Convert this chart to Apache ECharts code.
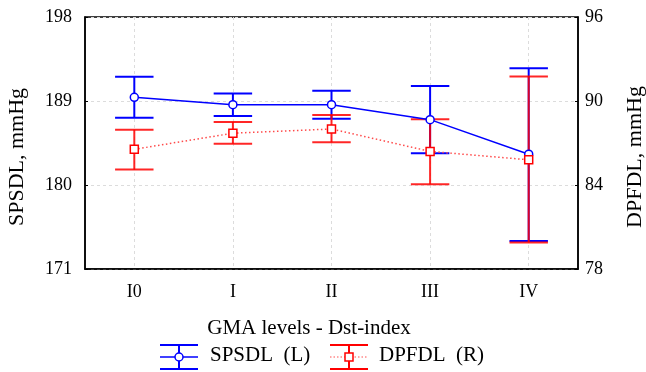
<!DOCTYPE html>
<html><head><meta charset="utf-8">
<script src="https://cdn.jsdelivr.net/npm/echarts@6/dist/echarts.min.js"></script>
<style>html,body{margin:0;padding:0;background:#fff}#c{width:646px;height:372px}</style>
</head><body><div id="c"></div>
<script>
const categories = ['I0', 'I', 'II', 'III', 'IV'];
const spsdlMean = [189.4, 188.6, 188.6, 187.0, 183.3];
const spsdlLow  = [187.2, 187.4, 187.1, 183.4, 174.0];
const spsdlHigh = [191.6, 189.8, 190.1, 190.6, 192.5];
const dpfdlMean = [86.55, 87.7, 88.0, 86.4, 85.8];
const dpfdlLow  = [85.1, 86.95, 87.05, 84.05, 79.9];
const dpfdlHigh = [87.95, 88.5, 89.0, 88.7, 91.75];
const leftAxis = {min: 171, max: 198, step: 9};
const rightAxis = {min: 78, max: 96, step: 6};
const seriesNames = ['SPSDL  (L)', 'DPFDL  (R)'];

const BLUE = '#0000ff', RED = '#ff0000';
const FONT = 'Liberation Serif';

function errRender(color, opacity) {
  return function (params, api) {
    const i = api.value(0);
    const lo = api.coord([i, api.value(1)]);
    const hi = api.coord([i, api.value(2)]);
    const hw = api.size([1, 0])[0] * 0.195;
    const style = {stroke: color, lineWidth: 2, opacity: opacity};
    return {type: 'group', children: [
      {type: 'line', shape: {x1: lo[0], y1: lo[1], x2: hi[0], y2: hi[1]}, style: style},
      {type: 'line', shape: {x1: lo[0] - hw, y1: lo[1], x2: lo[0] + hw, y2: lo[1]}, style: style},
      {type: 'line', shape: {x1: hi[0] - hw, y1: hi[1], x2: hi[0] + hw, y2: hi[1]}, style: style}
    ]};
  };
}

function legendIcon(x, color, isRect, dotted) {
  const cx = x + 19, top = 345, mid = 357, bot = 369;
  const s = {stroke: color, lineWidth: 2};
  const children = [
    {type: 'line', shape: {x1: x, y1: top, x2: x + 38, y2: top}, style: s},
    {type: 'line', shape: {x1: x, y1: bot, x2: x + 38, y2: bot}, style: s},
    {type: 'line', shape: {x1: x, y1: mid, x2: x + 38, y2: mid}, style: dotted ? {stroke: '#ff5050', lineWidth: 1.2, lineDash: [1.5, 2]} : {stroke: color, lineWidth: 1.5}},
    {type: 'line', shape: {x1: cx, y1: top, x2: cx, y2: bot}, style: s}
  ];
  if (isRect) children.push({type: 'rect', shape: {x: cx - 4, y: mid - 4, width: 8, height: 8}, style: {fill: '#fff', stroke: color, lineWidth: 1.5}});
  else children.push({type: 'circle', shape: {cx: cx, cy: mid, r: 4}, style: {fill: '#fff', stroke: color, lineWidth: 1.5}});
  return {type: 'group', children: children};
}

const chart = echarts.init(document.getElementById('c'), null, {renderer: 'canvas'});
chart.setOption({
  animation: false,
  textStyle: {fontFamily: FONT},
  grid: {left: 85, right: 68, top: 17, bottom: 103, show: true, borderColor: '#000', borderWidth: 1.5, backgroundColor: 'transparent', outerBoundsMode: 'none', containLabel: false},
  xAxis: {
    type: 'category', data: categories, boundaryGap: true,
    name: 'GMA levels - Dst-index', nameLocation: 'middle', nameGap: 49,
    nameTextStyle: {fontFamily: FONT, fontSize: 21, color: '#000', padding: [0, 45, 0, 0]},
    axisLine: {lineStyle: {color: '#000', width: 1.5}},
    axisTick: {inside: true, alignWithLabel: true, length: 3, lineStyle: {color: '#000'}},
    axisLabel: {fontFamily: FONT, fontSize: 18, color: '#000', margin: 14},
    splitLine: {show: true, alignWithLabel: true, lineStyle: {color: '#dcdcdc', type: [3, 3], width: 1}}
  },
  yAxis: [{
    type: 'value', min: leftAxis.min, max: leftAxis.max, interval: leftAxis.step,
    name: 'SPSDL, mmHg', nameLocation: 'middle', nameGap: 57, nameRotate: 90,
    nameTextStyle: {fontFamily: FONT, fontSize: 22, color: '#000', padding: [0, 28, 0, 0]},
    axisLine: {show: true, lineStyle: {color: '#000', width: 1.5}},
    axisTick: {show: true, inside: true, length: 3, lineStyle: {color: '#000'}},
    axisLabel: {fontFamily: FONT, fontSize: 18, color: '#000', margin: 13},
    splitLine: {show: true, lineStyle: {color: '#dcdcdc', type: [3, 3], width: 1}}
  }, {
    type: 'value', min: rightAxis.min, max: rightAxis.max, interval: rightAxis.step, position: 'right',
    name: 'DPFDL, mmHg', nameLocation: 'middle', nameGap: 46, nameRotate: 90,
    nameTextStyle: {fontFamily: FONT, fontSize: 22, color: '#000', padding: [0, 28, 0, 0]},
    axisLine: {show: true, lineStyle: {color: '#000', width: 1.5}},
    axisTick: {show: true, inside: true, length: 3, lineStyle: {color: '#000'}},
    axisLabel: {fontFamily: FONT, fontSize: 18, color: '#000', margin: 7},
    splitLine: {show: false}
  }],
  series: [
    {type: 'custom', name: seriesNames[0] + ' err', yAxisIndex: 0, z: 2,
     renderItem: errRender(BLUE, 1), encode: {x: 0, y: [1, 2]},
     data: categories.map((c, i) => [i, spsdlLow[i], spsdlHigh[i]])},
    {type: 'custom', name: seriesNames[1] + ' err', yAxisIndex: 1, z: 3,
     renderItem: errRender(RED, 0.85), encode: {x: 0, y: [1, 2]},
     data: categories.map((c, i) => [i, dpfdlLow[i], dpfdlHigh[i]])},
    {type: 'line', name: seriesNames[0], yAxisIndex: 0, z: 4, data: spsdlMean,
     symbol: 'circle', symbolSize: 8, showAllSymbol: true,
     itemStyle: {color: '#fff', borderColor: BLUE, borderWidth: 1.5},
     lineStyle: {color: BLUE, width: 1.5}},
    {type: 'line', name: seriesNames[1], yAxisIndex: 1, z: 5, data: dpfdlMean,
     symbol: 'rect', symbolSize: 8, showAllSymbol: true,
     itemStyle: {color: '#fff', borderColor: RED, borderWidth: 1.5},
     lineStyle: {color: '#ff4a4a', width: 1.5, type: [1.5, 2.5]}}
  ],
  graphic: [
    legendIcon(160, BLUE, false, false),
    {type: 'text', left: 210, top: 345, style: {text: seriesNames[0], font: '21px "Liberation Serif"', fill: '#000'}},
    legendIcon(330, RED, true, true),
    {type: 'text', left: 379, top: 345, style: {text: seriesNames[1], font: '21px "Liberation Serif"', fill: '#000'}}
  ]
});
</script></body></html>
